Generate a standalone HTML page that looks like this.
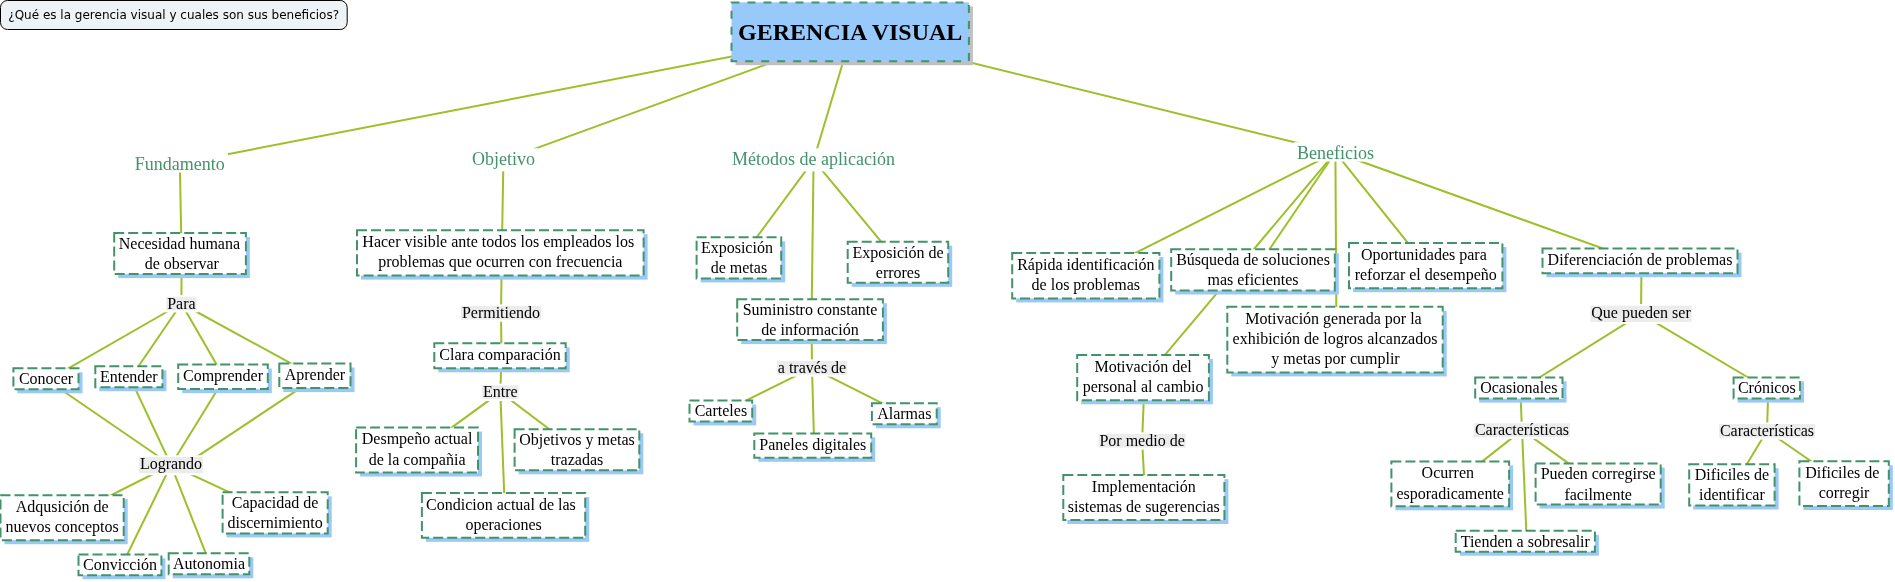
<!DOCTYPE html><html><head><meta charset="utf-8"><title>GERENCIA VISUAL</title><style>html,body{margin:0;padding:0;background:#fff}svg{display:block;will-change:transform}text{font-family:"Liberation Serif",serif;font-size:16px;fill:#000}.g{fill:#44936b;font-size:18px}.t{font-weight:bold;font-size:24px}.q{font-family:"DejaVu Sans","Liberation Sans",sans-serif;font-size:12px}</style></head><body>
<svg width="1895" height="582" viewBox="0 0 1895 582">
<g stroke="#9bc02a" stroke-width="2" stroke-linecap="butt">
<line x1="851.7" y1="33.3" x2="179.8" y2="163.4"/>
<line x1="851.7" y1="33.3" x2="503.4" y2="160.2"/>
<line x1="851.7" y1="33.3" x2="813.6" y2="160.2"/>
<line x1="851.7" y1="33.3" x2="1335.4" y2="152.3"/>
<line x1="179.8" y1="163.4" x2="181.6" y2="255.1"/>
<line x1="181.6" y1="255.1" x2="181.4" y2="303.5"/>
<line x1="181.4" y1="303.5" x2="47.5" y2="380.3"/>
<line x1="181.4" y1="303.5" x2="130.3" y2="378.2"/>
<line x1="181.4" y1="303.5" x2="224.5" y2="378.3"/>
<line x1="181.4" y1="303.5" x2="316.4" y2="377.3"/>
<line x1="47.5" y1="380.3" x2="171.0" y2="465.0"/>
<line x1="130.3" y1="378.2" x2="171.0" y2="465.0"/>
<line x1="224.5" y1="378.3" x2="171.0" y2="465.0"/>
<line x1="316.4" y1="377.3" x2="184.7" y2="464.9"/>
<line x1="171.0" y1="465.0" x2="63.6" y2="519.2"/>
<line x1="171.0" y1="465.0" x2="121.5" y2="566.3"/>
<line x1="171.0" y1="465.0" x2="210.5" y2="565.3"/>
<line x1="171.0" y1="465.0" x2="276.6" y2="514.4"/>
<line x1="503.4" y1="160.2" x2="501.8" y2="254.4"/>
<line x1="501.8" y1="254.4" x2="501.0" y2="312.8"/>
<line x1="501.0" y1="312.8" x2="501.5" y2="357.3"/>
<line x1="501.5" y1="357.3" x2="500.3" y2="392.1"/>
<line x1="500.3" y1="392.1" x2="418.6" y2="451.6"/>
<line x1="500.3" y1="392.1" x2="578.5" y2="451.3"/>
<line x1="500.3" y1="392.1" x2="505.1" y2="517.0"/>
<line x1="813.6" y1="160.2" x2="740.4" y2="259.4"/>
<line x1="813.6" y1="160.2" x2="899.5" y2="263.8"/>
<line x1="813.6" y1="160.2" x2="811.5" y2="321.1"/>
<line x1="811.5" y1="321.1" x2="812.0" y2="367.8"/>
<line x1="812.0" y1="367.8" x2="722.4" y2="412.4"/>
<line x1="812.0" y1="367.8" x2="814.2" y2="447.1"/>
<line x1="812.0" y1="367.8" x2="905.8" y2="415.2"/>
<line x1="1335.4" y1="152.3" x2="1087.3" y2="277.2"/>
<line x1="1335.4" y1="152.3" x2="1254.5" y2="271.4"/>
<line x1="1335.4" y1="152.3" x2="1427.2" y2="267.1"/>
<line x1="1335.4" y1="152.3" x2="1641.5" y2="262.4"/>
<line x1="1335.4" y1="152.3" x2="1336.5" y2="341.1"/>
<line x1="1335.4" y1="152.3" x2="1144.6" y2="379.1"/>
<line x1="1144.6" y1="379.1" x2="1142.1" y2="440.8"/>
<line x1="1142.1" y1="440.8" x2="1145.3" y2="499.1"/>
<line x1="1641.5" y1="262.4" x2="1641.0" y2="313.8"/>
<line x1="1641.0" y1="313.8" x2="1520.3" y2="389.5"/>
<line x1="1641.0" y1="313.8" x2="1768.3" y2="389.5"/>
<line x1="1520.3" y1="389.5" x2="1522.0" y2="430.1"/>
<line x1="1522.0" y1="430.1" x2="1451.8" y2="485.4"/>
<line x1="1522.0" y1="430.1" x2="1599.7" y2="485.6"/>
<line x1="1522.0" y1="430.1" x2="1526.8" y2="542.8"/>
<line x1="1768.3" y1="389.5" x2="1767.0" y2="430.8"/>
<line x1="1767.0" y1="430.8" x2="1733.4" y2="486.4"/>
<line x1="1767.0" y1="430.8" x2="1845.6" y2="485.1"/>
</g>
<rect x="735.5" y="6.4" width="237.39999999999998" height="58.800000000000004" fill="#c0c0c0"/>
<rect x="731.5" y="2.4" width="237.39999999999998" height="58.800000000000004" fill="#98c9fb" stroke="#42936a" stroke-width="2" stroke-dasharray="8 8"/>
<text class="t" x="850.2" y="40" text-anchor="middle">GERENCIA VISUAL</text>
<rect x="131.7" y="153.2" width="96.2" height="19.4" fill="#fff"/>
<text class="g" x="179.8" y="169.6" text-anchor="middle">Fundamento</text>
<rect x="468.8" y="148.2" width="69.2" height="23.1" fill="#fff"/>
<text class="g" x="503.4" y="164.6" text-anchor="middle">Objetivo</text>
<rect x="729.0" y="148.3" width="169.2" height="23.1" fill="#fff"/>
<text class="g" x="813.6" y="164.6" text-anchor="middle">Métodos de aplicación</text>
<rect x="1293.8" y="142.2" width="83.2" height="19.4" fill="#fff"/>
<text class="g" x="1335.4" y="158.5" text-anchor="middle">Beneficios</text>
<rect x="164.3" y="295.1" width="34.2" height="17.3" fill="#fff"/>
<rect x="166.3" y="296.7" width="30.2" height="13.6" fill="#ececec"/>
<text x="181.4" y="308.7" text-anchor="middle">Para</text>
<rect x="137.0" y="455.3" width="68.0" height="19.9" fill="#fff"/>
<rect x="139.0" y="456.9" width="64.0" height="16.2" fill="#ececec"/>
<text x="171.0" y="468.9" text-anchor="middle">Logrando</text>
<rect x="459.0" y="304.4" width="84.0" height="17.3" fill="#fff"/>
<rect x="461.0" y="306.0" width="80.0" height="13.6" fill="#ececec"/>
<text x="501.0" y="318.0" text-anchor="middle">Permitiendo</text>
<rect x="480.1" y="383.7" width="40.5" height="17.3" fill="#fff"/>
<rect x="482.1" y="385.3" width="36.5" height="13.6" fill="#ececec"/>
<text x="500.3" y="397.3" text-anchor="middle">Entre</text>
<rect x="774.9" y="359.4" width="74.2" height="17.3" fill="#fff"/>
<rect x="776.9" y="361.0" width="70.2" height="13.6" fill="#ececec"/>
<text x="812.0" y="373.0" text-anchor="middle">a través de</text>
<rect x="1096.5" y="432.4" width="91.1" height="17.3" fill="#fff"/>
<rect x="1098.5" y="434.0" width="87.1" height="13.6" fill="#ececec"/>
<text x="1142.1" y="446.0" text-anchor="middle">Por medio de</text>
<rect x="1588.3" y="304.1" width="105.3" height="19.9" fill="#fff"/>
<rect x="1590.3" y="305.7" width="101.3" height="16.2" fill="#ececec"/>
<text x="1641.0" y="317.7" text-anchor="middle">Que pueden ser</text>
<rect x="1472.0" y="421.7" width="100.0" height="17.3" fill="#fff"/>
<rect x="1474.0" y="423.3" width="96.0" height="13.6" fill="#ececec"/>
<text x="1522.0" y="435.3" text-anchor="middle">Características</text>
<rect x="1717.1" y="422.4" width="100.0" height="17.3" fill="#fff"/>
<rect x="1719.1" y="424.0" width="96.0" height="13.6" fill="#ececec"/>
<text x="1767.0" y="436.0" text-anchor="middle">Características</text>
<rect x="118.2" y="237.0" width="131.7" height="41.1" fill="#9ac9f7"/>
<rect x="114.2" y="233.0" width="131.7" height="41.1" fill="#fff" stroke="#42936a" stroke-width="2" stroke-dasharray="10 4"/>
<text x="179.4" y="248.8" text-anchor="middle">Necesidad humana</text>
<text x="181.8" y="269.1" text-anchor="middle">de observar</text>
<rect x="361.0" y="234.2" width="286.6" height="45.4" fill="#9ac9f7"/>
<rect x="357.0" y="230.2" width="286.6" height="45.4" fill="#fff" stroke="#42936a" stroke-width="2" stroke-dasharray="10 4"/>
<text x="498.3" y="247.0" text-anchor="middle">Hacer visible ante todos los empleados los</text>
<text x="500.3" y="267.3" text-anchor="middle">problemas que ocurren con frecuencia</text>
<rect x="700.6" y="241.3" width="84.6" height="41.1" fill="#9ac9f7"/>
<rect x="696.6" y="237.3" width="84.6" height="41.1" fill="#fff" stroke="#42936a" stroke-width="2" stroke-dasharray="10 4"/>
<text x="736.9" y="253.1" text-anchor="middle">Exposición</text>
<text x="738.9" y="273.4" text-anchor="middle">de metas</text>
<rect x="851.7" y="245.7" width="100.5" height="41.1" fill="#9ac9f7"/>
<rect x="847.7" y="241.7" width="100.5" height="41.1" fill="#fff" stroke="#42936a" stroke-width="2" stroke-dasharray="10 4"/>
<text x="898.0" y="257.5" text-anchor="middle">Exposición de</text>
<text x="898.0" y="277.8" text-anchor="middle">errores</text>
<rect x="741.2" y="303.2" width="145.7" height="40.9" fill="#9ac9f7"/>
<rect x="737.2" y="299.2" width="145.7" height="40.9" fill="#fff" stroke="#42936a" stroke-width="2" stroke-dasharray="10 4"/>
<text x="810.0" y="315.0" text-anchor="middle">Suministro constante</text>
<text x="810.0" y="335.3" text-anchor="middle">de información</text>
<rect x="1016.2" y="257.0" width="147.2" height="45.4" fill="#9ac9f7"/>
<rect x="1012.2" y="253.0" width="147.2" height="45.4" fill="#fff" stroke="#42936a" stroke-width="2" stroke-dasharray="10 4"/>
<text x="1085.8" y="269.8" text-anchor="middle">Rápida identificación</text>
<text x="1085.8" y="290.1" text-anchor="middle">de los problemas</text>
<rect x="1175.2" y="253.2" width="163.6" height="41.3" fill="#9ac9f7"/>
<rect x="1171.2" y="249.2" width="163.6" height="41.3" fill="#fff" stroke="#42936a" stroke-width="2" stroke-dasharray="10 4"/>
<text x="1253.0" y="265.0" text-anchor="middle">Búsqueda de soluciones</text>
<text x="1253.0" y="285.3" text-anchor="middle">mas eficientes</text>
<rect x="1353.0" y="247.0" width="153.4" height="45.2" fill="#9ac9f7"/>
<rect x="1349.0" y="243.0" width="153.4" height="45.2" fill="#fff" stroke="#42936a" stroke-width="2" stroke-dasharray="10 4"/>
<text x="1423.9" y="259.8" text-anchor="middle">Oportunidades para</text>
<text x="1425.7" y="280.1" text-anchor="middle">reforzar el desempeño</text>
<rect x="1546.5" y="252.6" width="195.0" height="24.6" fill="#9ac9f7"/>
<rect x="1542.5" y="248.6" width="195.0" height="24.6" fill="#fff" stroke="#42936a" stroke-width="2" stroke-dasharray="10 4"/>
<text x="1640.0" y="265.4" text-anchor="middle">Diferenciación de problemas</text>
<rect x="1231.3" y="310.8" width="215.4" height="65.6" fill="#9ac9f7"/>
<rect x="1227.3" y="306.8" width="215.4" height="65.6" fill="#fff" stroke="#42936a" stroke-width="2" stroke-dasharray="10 4"/>
<text x="1333.5" y="323.6" text-anchor="middle">Motivación generada por la</text>
<text x="1335.0" y="343.9" text-anchor="middle">exhibición de logros alcanzados</text>
<text x="1335.5" y="364.2" text-anchor="middle">y metas por cumplir</text>
<rect x="1081.2" y="359.0" width="131.7" height="45.3" fill="#9ac9f7"/>
<rect x="1077.2" y="355.0" width="131.7" height="45.3" fill="#fff" stroke="#42936a" stroke-width="2" stroke-dasharray="10 4"/>
<text x="1143.1" y="371.8" text-anchor="middle">Motivación del</text>
<text x="1143.1" y="392.1" text-anchor="middle">personal al cambio</text>
<rect x="1067.3" y="479.1" width="161.1" height="44.9" fill="#9ac9f7"/>
<rect x="1063.3" y="475.1" width="161.1" height="44.9" fill="#fff" stroke="#42936a" stroke-width="2" stroke-dasharray="10 4"/>
<text x="1143.8" y="491.9" text-anchor="middle">Implementación</text>
<text x="1143.8" y="512.2" text-anchor="middle">sistemas de sugerencias</text>
<rect x="17.4" y="372.3" width="65.1" height="21.0" fill="#9ac9f7"/>
<rect x="13.4" y="368.3" width="65.1" height="21.0" fill="#fff" stroke="#42936a" stroke-width="2" stroke-dasharray="10 4"/>
<text x="46.0" y="384.1" text-anchor="middle">Conocer</text>
<rect x="99.3" y="370.3" width="67.1" height="20.9" fill="#9ac9f7"/>
<rect x="95.3" y="366.3" width="67.1" height="20.9" fill="#fff" stroke="#42936a" stroke-width="2" stroke-dasharray="10 4"/>
<text x="128.8" y="382.1" text-anchor="middle">Entender</text>
<rect x="182.2" y="368.5" width="89.6" height="24.6" fill="#9ac9f7"/>
<rect x="178.2" y="364.5" width="89.6" height="24.6" fill="#fff" stroke="#42936a" stroke-width="2" stroke-dasharray="10 4"/>
<text x="223.0" y="381.3" text-anchor="middle">Comprender</text>
<rect x="283.3" y="367.5" width="71.2" height="24.6" fill="#9ac9f7"/>
<rect x="279.3" y="363.5" width="71.2" height="24.6" fill="#fff" stroke="#42936a" stroke-width="2" stroke-dasharray="10 4"/>
<text x="314.9" y="380.3" text-anchor="middle">Aprender</text>
<rect x="4.5" y="499.2" width="123.2" height="45.0" fill="#9ac9f7"/>
<rect x="0.5" y="495.2" width="123.2" height="45.0" fill="#fff" stroke="#42936a" stroke-width="2" stroke-dasharray="10 4"/>
<text x="62.1" y="512.0" text-anchor="middle">Adqusición de</text>
<text x="62.1" y="532.3" text-anchor="middle">nuevos conceptos</text>
<rect x="226.6" y="496.3" width="105.1" height="41.1" fill="#9ac9f7"/>
<rect x="222.6" y="492.3" width="105.1" height="41.1" fill="#fff" stroke="#42936a" stroke-width="2" stroke-dasharray="10 4"/>
<text x="275.1" y="508.1" text-anchor="middle">Capacidad de</text>
<text x="275.1" y="528.4" text-anchor="middle">discernimiento</text>
<rect x="82.5" y="558.4" width="82.9" height="20.8" fill="#9ac9f7"/>
<rect x="78.5" y="554.4" width="82.9" height="20.8" fill="#fff" stroke="#42936a" stroke-width="2" stroke-dasharray="10 4"/>
<text x="120.0" y="570.2" text-anchor="middle">Convicción</text>
<rect x="172.7" y="557.3" width="80.6" height="21.0" fill="#9ac9f7"/>
<rect x="168.7" y="553.3" width="80.6" height="21.0" fill="#fff" stroke="#42936a" stroke-width="2" stroke-dasharray="10 4"/>
<text x="209.0" y="569.1" text-anchor="middle">Autonomia</text>
<rect x="438.3" y="347.3" width="131.4" height="25.0" fill="#9ac9f7"/>
<rect x="434.3" y="343.3" width="131.4" height="25.0" fill="#fff" stroke="#42936a" stroke-width="2" stroke-dasharray="10 4"/>
<text x="500.0" y="360.1" text-anchor="middle">Clara comparación</text>
<rect x="360.1" y="431.6" width="121.9" height="44.9" fill="#9ac9f7"/>
<rect x="356.1" y="427.6" width="121.9" height="44.9" fill="#fff" stroke="#42936a" stroke-width="2" stroke-dasharray="10 4"/>
<text x="417.1" y="444.4" text-anchor="middle">Desmpeño actual</text>
<text x="417.1" y="464.7" text-anchor="middle">de la compañia</text>
<rect x="518.6" y="433.3" width="124.7" height="41.0" fill="#9ac9f7"/>
<rect x="514.6" y="429.3" width="124.7" height="41.0" fill="#fff" stroke="#42936a" stroke-width="2" stroke-dasharray="10 4"/>
<text x="577.0" y="445.1" text-anchor="middle">Objetivos y metas</text>
<text x="577.0" y="465.4" text-anchor="middle">trazadas</text>
<rect x="425.9" y="497.1" width="163.3" height="44.7" fill="#9ac9f7"/>
<rect x="421.9" y="493.1" width="163.3" height="44.7" fill="#fff" stroke="#42936a" stroke-width="2" stroke-dasharray="10 4"/>
<text x="500.9" y="509.9" text-anchor="middle">Condicion actual de las</text>
<text x="503.6" y="530.2" text-anchor="middle">operaciones</text>
<rect x="693.5" y="404.5" width="62.7" height="20.9" fill="#9ac9f7"/>
<rect x="689.5" y="400.5" width="62.7" height="20.9" fill="#fff" stroke="#42936a" stroke-width="2" stroke-dasharray="10 4"/>
<text x="720.9" y="416.3" text-anchor="middle">Carteles</text>
<rect x="875.9" y="407.2" width="64.8" height="21.1" fill="#9ac9f7"/>
<rect x="871.9" y="403.2" width="64.8" height="21.1" fill="#fff" stroke="#42936a" stroke-width="2" stroke-dasharray="10 4"/>
<text x="904.3" y="419.0" text-anchor="middle">Alarmas</text>
<rect x="758.3" y="437.4" width="116.9" height="24.4" fill="#9ac9f7"/>
<rect x="754.3" y="433.4" width="116.9" height="24.4" fill="#fff" stroke="#42936a" stroke-width="2" stroke-dasharray="10 4"/>
<text x="812.8" y="450.2" text-anchor="middle">Paneles digitales</text>
<rect x="1479.2" y="381.4" width="87.3" height="21.2" fill="#9ac9f7"/>
<rect x="1475.2" y="377.4" width="87.3" height="21.2" fill="#fff" stroke="#42936a" stroke-width="2" stroke-dasharray="10 4"/>
<text x="1518.8" y="393.2" text-anchor="middle">Ocasionales</text>
<rect x="1737.6" y="381.4" width="66.4" height="21.2" fill="#9ac9f7"/>
<rect x="1733.6" y="377.4" width="66.4" height="21.2" fill="#fff" stroke="#42936a" stroke-width="2" stroke-dasharray="10 4"/>
<text x="1766.8" y="393.2" text-anchor="middle">Crónicos</text>
<rect x="1395.4" y="465.4" width="117.7" height="44.9" fill="#9ac9f7"/>
<rect x="1391.4" y="461.4" width="117.7" height="44.9" fill="#fff" stroke="#42936a" stroke-width="2" stroke-dasharray="10 4"/>
<text x="1447.8" y="478.2" text-anchor="middle">Ocurren</text>
<text x="1450.2" y="498.5" text-anchor="middle">esporadicamente</text>
<rect x="1539.6" y="467.6" width="125.1" height="41.0" fill="#9ac9f7"/>
<rect x="1535.6" y="463.6" width="125.1" height="41.0" fill="#fff" stroke="#42936a" stroke-width="2" stroke-dasharray="10 4"/>
<text x="1598.2" y="479.4" text-anchor="middle">Pueden corregirse</text>
<text x="1598.2" y="499.7" text-anchor="middle">facilmente</text>
<rect x="1459.7" y="534.8" width="139.2" height="20.9" fill="#9ac9f7"/>
<rect x="1455.7" y="530.8" width="139.2" height="20.9" fill="#fff" stroke="#42936a" stroke-width="2" stroke-dasharray="10 4"/>
<text x="1525.3" y="546.6" text-anchor="middle">Tienden a sobresalir</text>
<rect x="1693.2" y="468.2" width="85.4" height="41.3" fill="#9ac9f7"/>
<rect x="1689.2" y="464.2" width="85.4" height="41.3" fill="#fff" stroke="#42936a" stroke-width="2" stroke-dasharray="10 4"/>
<text x="1731.9" y="480.0" text-anchor="middle">Dificiles de</text>
<text x="1731.9" y="500.3" text-anchor="middle">identificar</text>
<rect x="1803.4" y="465.2" width="89.4" height="44.8" fill="#9ac9f7"/>
<rect x="1799.4" y="461.2" width="89.4" height="44.8" fill="#fff" stroke="#42936a" stroke-width="2" stroke-dasharray="10 4"/>
<text x="1842.3" y="478.0" text-anchor="middle">Dificiles de</text>
<text x="1844.1" y="498.3" text-anchor="middle">corregir</text>
<rect x="0.5" y="0.5" width="346.7" height="29" rx="7" ry="7" fill="#edf3f7" stroke="#000" stroke-width="1"/>
<text class="q" x="8.3" y="19.3">¿Qué es la gerencia visual y cuales son sus beneficios?</text>
</svg></body></html>
